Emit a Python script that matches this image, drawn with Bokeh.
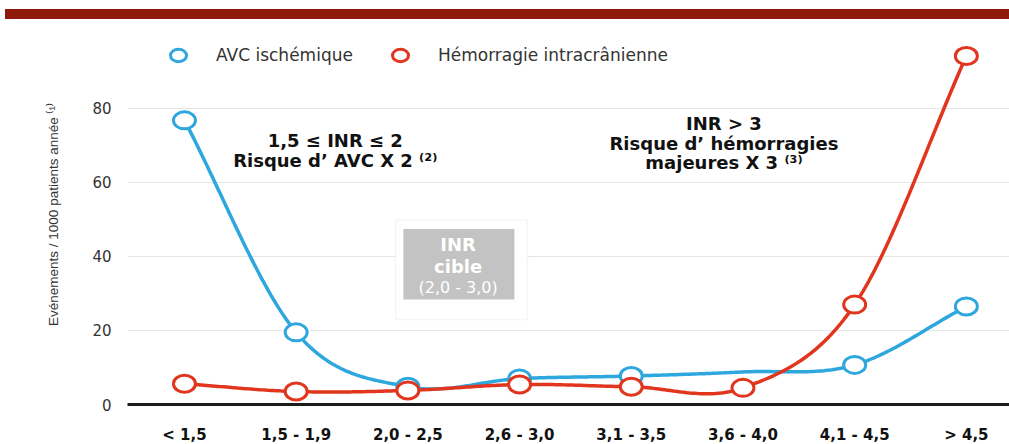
import numpy as np
from bokeh.plotting import figure
from bokeh.models import (Range1d, FixedTicker, Label, BoxAnnotation, Legend, LegendItem,
                          ColumnDataSource, CDSView, IndexFilter, Div)
from bokeh.layouts import column
from bokeh.embed import file_html
from bokeh.resources import INLINE

# ---- data ----
categories = ["< 1,5", "1,5 - 1,9", "2,0 - 2,5", "2,6 - 3,0", "3,1 - 3,5", "3,6 - 4,0", "4,1 - 4,5", "> 4,5"]
avc_ischemique = [76.8, 19.5, 4.8, 7.0, 7.7, 8.8, 10.7, 26.5]
hemorragie = [5.6, 3.5, 3.8, 5.4, 4.8, 4.5, 27.0, 94.2]
avc_marker_idx = [0, 1, 2, 3, 4, 6, 7]   # no marker drawn at 3,6 - 4,0 in the original
y_ticks = [0, 20, 40, 60, 80]

BLUE = "#2ea7de"
RED = "#e1351d"

W = 1009
LEFT = 127


def smooth(ys, n=40):
    """Catmull-Rom style cubic Hermite curve through the points (drawing only)."""
    ys = np.asarray(ys, dtype=float)
    xs = np.arange(len(ys), dtype=float)
    m = np.gradient(ys, xs)
    ox, oy = [], []
    for i in range(len(ys) - 1):
        t = np.linspace(0, 1, n, endpoint=(i == len(ys) - 2))
        h00 = 2 * t**3 - 3 * t**2 + 1
        h10 = t**3 - 2 * t**2 + t
        h01 = -2 * t**3 + 3 * t**2
        h11 = t**3 - t**2
        oy.extend(h00 * ys[i] + h10 * m[i] + h01 * ys[i + 1] + h11 * m[i + 1])
        ox.extend(xs[i] + t)
    return ox, oy


x_idx = list(range(len(categories)))
x_end = -0.51 + (W - LEFT) / 111.7

p = figure(width=W, height=422, x_range=Range1d(-0.51, x_end), y_range=Range1d(0, 102.7),
           output_backend="svg", toolbar_location=None,
           min_border_left=LEFT, min_border_right=0, min_border_top=0, min_border_bottom=38)
p.outline_line_color = None
p.background_fill_color = "white"

# axes
p.xaxis.ticker = FixedTicker(ticks=x_idx)
p.xaxis.major_label_overrides = {i: c for i, c in enumerate(categories)}
p.xaxis.axis_line_width = 3
p.xaxis.axis_line_color = "#1c1c1c"
p.xaxis.major_tick_line_color = None
p.xaxis.minor_tick_line_color = None
p.xaxis.major_label_standoff = 15
p.xaxis.major_label_text_font = "DejaVu Sans"
p.xaxis.major_label_text_font_style = "bold"
p.xaxis.major_label_text_font_size = "15px"
p.xaxis.major_label_text_color = "#111111"
p.xgrid.visible = False

p.yaxis.ticker = FixedTicker(ticks=y_ticks)
p.yaxis.axis_line_color = None
p.yaxis.major_tick_line_color = None
p.yaxis.minor_tick_line_color = None
p.yaxis.major_label_standoff = 10
p.yaxis.major_label_text_font = "DejaVu Sans"
p.yaxis.major_label_text_font_size = "15px"
p.yaxis.major_label_text_color = "#333333"
p.yaxis.axis_label = "Evénements / 1000 patients année ⁽¹⁾"
p.yaxis.axis_label_text_font = "Liberation Sans"
p.yaxis.axis_label_text_font_style = "normal"
p.yaxis.axis_label_text_font_size = "13.5px"
p.yaxis.axis_label_text_color = "#333333"
p.yaxis.axis_label_standoff = 28
p.ygrid.ticker = FixedTicker(ticks=y_ticks)
p.ygrid.grid_line_color = "#e6e6e6"
p.ygrid.grid_line_width = 1

# target INR box
p.add_layout(BoxAnnotation(left=1.89, right=3.07, bottom=23.0, top=49.8,
                           fill_color="white", fill_alpha=1.0,
                           line_color="#e2e2e2", line_width=1.5, level="underlay"))
p.add_layout(BoxAnnotation(left=1.96, right=2.954, bottom=28.4, top=47.4,
                           fill_color="#c3c3c3", fill_alpha=1.0, line_color=None, level="underlay"))
for txt, yy, style, size in [("INR", 43.3, "bold", "18px"), ("cible", 37.2, "bold", "18px"),
                             ("(2,0 - 3,0)", 31.6, "normal", "16px")]:
    p.add_layout(Label(x=2.45, y=yy, text=txt, text_align="center", text_baseline="middle",
                       text_font="DejaVu Sans", text_font_style=style, text_font_size=size,
                       text_color="white"))

# curves
bx, by = smooth(avc_ischemique)
rx, ry = smooth(hemorragie)
p.line(bx, by, line_color=BLUE, line_width=3.5)
src_b = ColumnDataSource(dict(x=x_idx, y=avc_ischemique))
blue_m = p.ellipse("x", "y", source=src_b, view=CDSView(filter=IndexFilter(avc_marker_idx)),
                   width=22, height=17, width_units="screen", height_units="screen",
                   fill_color="white", line_color=BLUE, line_width=3)
p.line(rx, ry, line_color=RED, line_width=3.5)
src_r = ColumnDataSource(dict(x=x_idx, y=hemorragie))
red_m = p.ellipse("x", "y", source=src_r,
                  width=22, height=17, width_units="screen", height_units="screen",
                  fill_color="white", line_color=RED, line_width=3)

# annotation texts
for txt, xx, yy in [("1,5 ≤ INR ≤ 2", 1.35, 71.4), ("Risque d’ AVC X 2 ⁽²⁾", 1.35, 66.0),
                    ("INR > 3", 4.83, 76.0), ("Risque d’ hémorragies", 4.83, 70.6),
                    ("majeures X 3 ⁽³⁾", 4.83, 65.4)]:
    p.add_layout(Label(x=xx, y=yy, text=txt, text_align="center", text_baseline="middle",
                       text_font="DejaVu Sans", text_font_style="bold", text_font_size="18px",
                       text_color="#111111"))

legend = Legend(items=[LegendItem(label="AVC ischémique", renderers=[blue_m]),
                       LegendItem(label="Hémorragie intracrânienne", renderers=[red_m])],
                orientation="horizontal", location=(39, 339),
                border_line_color=None, background_fill_alpha=0,
                label_text_font="DejaVu Sans", label_text_font_size="17px",
                label_text_color="#333333", glyph_width=24, glyph_height=20,
                label_standoff=26, spacing=35, padding=0, margin=0)
p.add_layout(legend)

band = Div(text='<div style="margin-top:4px;height:10px;width:%dpx;background:#8d1a0b;"></div>' % W,
           width=W, height=14)

layout = column(band, p, spacing=0)
open("out.html", "w").write(file_html(layout, INLINE))
